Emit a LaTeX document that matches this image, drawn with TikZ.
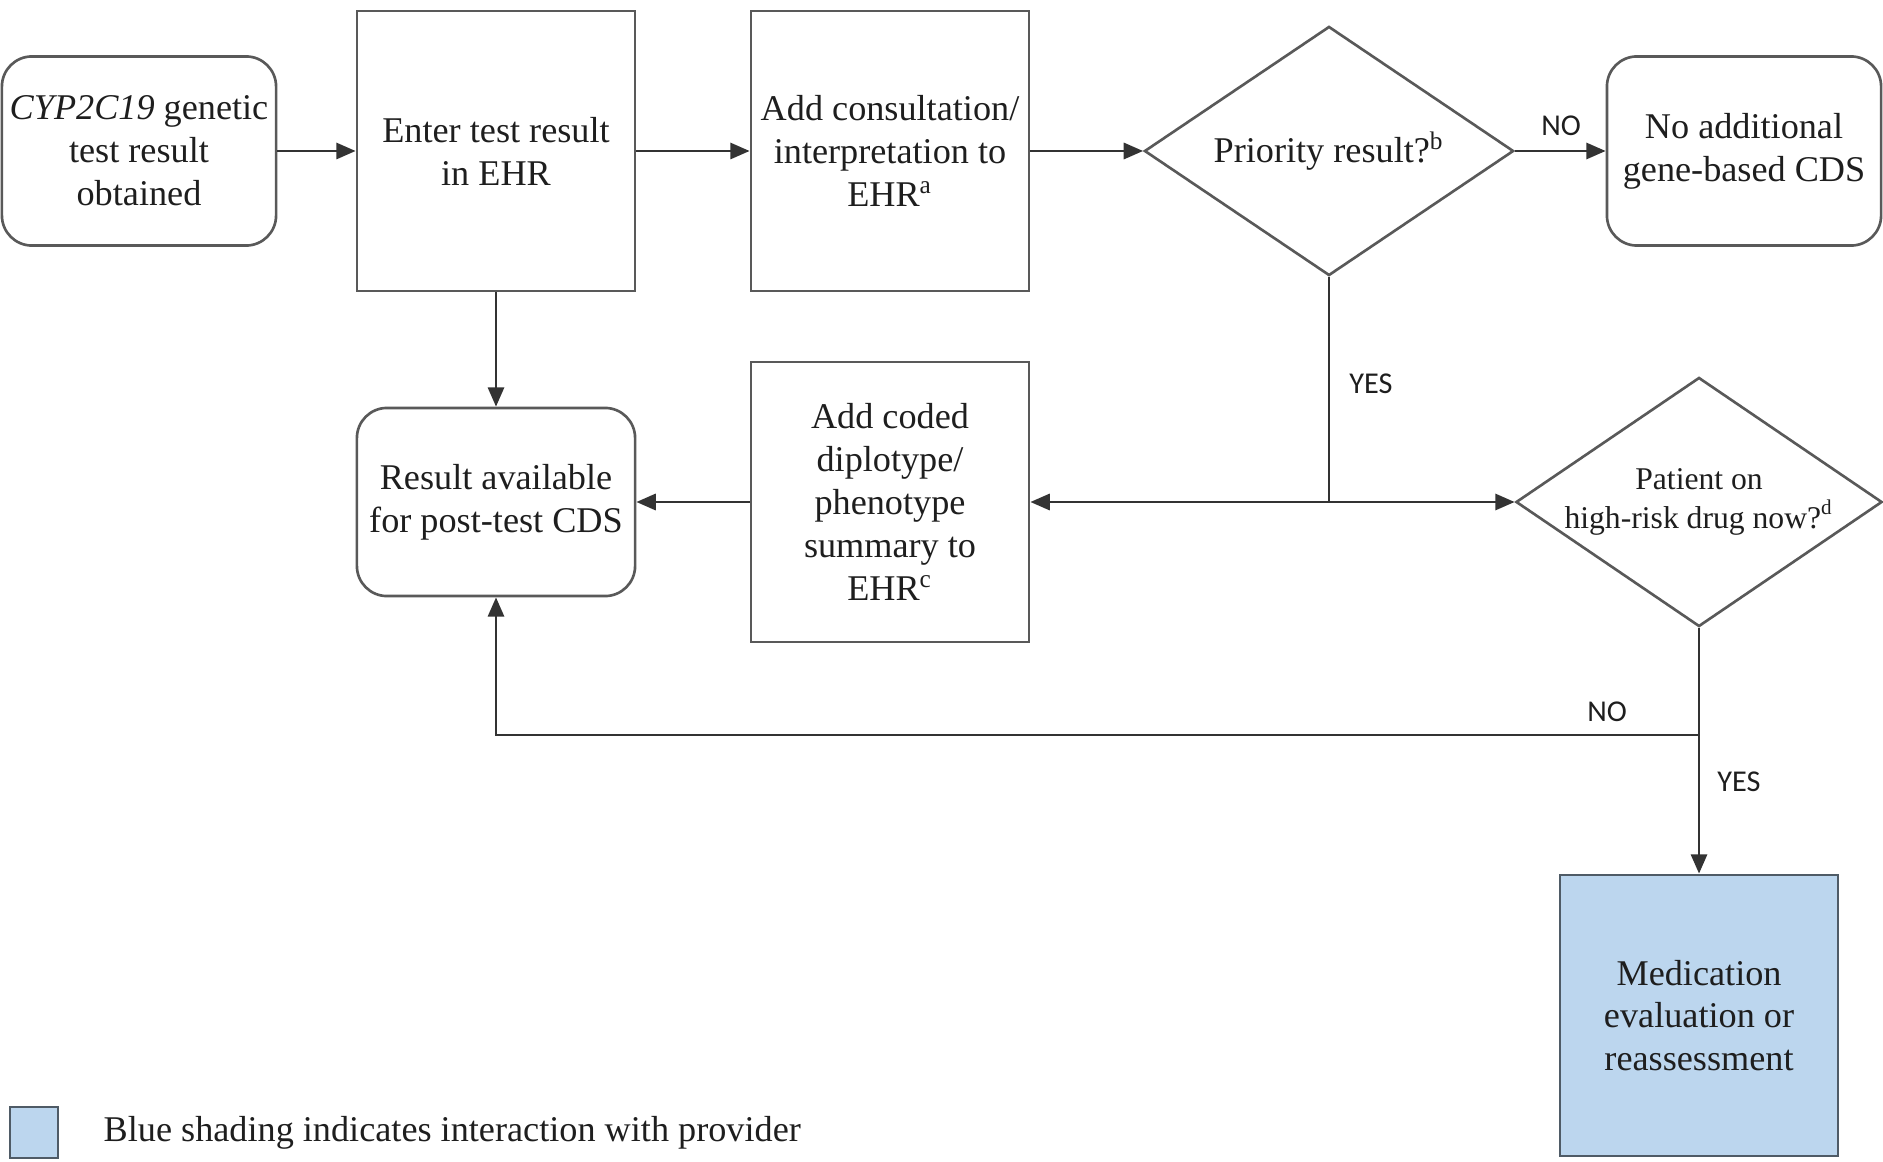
\documentclass[tikz,border=0pt]{standalone}
\usepackage{fontspec}
\setmainfont{Liberation Serif}
\newfontfamily\lblfont{Carlito}
\usetikzlibrary{shapes.geometric,arrows.meta}
\definecolor{edgegray}{HTML}{595959}
\definecolor{linegray}{HTML}{333333}
\definecolor{bluefill}{HTML}{BCD6EE}
\definecolor{blueedge}{HTML}{4F5B66}
\definecolor{txt}{HTML}{1E1E1E}
\tikzset{
  x=0.01cm, y=-0.01cm,
  base/.style={draw=edgegray, line width=0.75pt, align=center, text=txt, inner sep=0pt,
    font=\fontsize{10.3}{12.2}\selectfont},
  roundbox/.style={base, rectangle, rounded corners=0.3cm},
  sqbox/.style={base, rectangle},
  decision/.style={base, diamond},
  bluebox/.style={sqbox, fill=bluefill, draw=blueedge},
  conn/.style={draw=linegray, line width=0.75pt},
  arr/.style={conn, -{Triangle[length=5.5pt,width=4.6pt]}},
  lbl/.style={font=\lblfont\fontsize{8.6}{10}\selectfont, text=txt, inner sep=0pt},
}
\begin{document}
\begin{tikzpicture}
\useasboundingbox (0,0) rectangle (1883,1161);
% nodes
\node[roundbox, minimum width=2.74cm, minimum height=1.89cm] (b1) at (139,151)
  {\textit{CYP2C19} genetic\\test result\\obtained};
\node[sqbox, minimum width=2.78cm, minimum height=2.80cm] (b2) at (496,151)
  {Enter test result\\in EHR};
\node[sqbox, minimum width=2.78cm, minimum height=2.80cm] (b3) at (890,151)
  {Add consultation/\\interpretation to\\EHR\textsuperscript{a}};
\node[decision, minimum width=3.69cm, minimum height=2.49cm, aspect=1.48] (d1) at (1329,151)
  {Priority result?\textsuperscript{b}};
\node[roundbox, minimum width=2.74cm, minimum height=1.89cm] (b4) at (1744,151)
  {No additional\\gene-based CDS};
\node[roundbox, minimum width=2.78cm, minimum height=1.88cm] (b5) at (496,502)
  {Result available\\for post-test CDS};
\node[sqbox, minimum width=2.78cm, minimum height=2.80cm] (b6) at (890,502)
  {Add coded\\diplotype/\\phenotype\\summary to\\EHR\textsuperscript{c}};
\node[decision, minimum width=3.64cm, minimum height=2.48cm, aspect=1.47,
  font=\fontsize{9}{10.9}\selectfont] (d2) at (1699,502)
  {Patient on\\high-risk drug now?\textsuperscript{d}};
\node[bluebox, minimum width=2.78cm, minimum height=2.81cm] (b7) at (1699,1015.5)
  {Medication\\evaluation or\\reassessment};
% legend
\node[bluebox, minimum width=0.48cm, minimum height=0.51cm] (leg) at (34,1132.5) {};
\node[anchor=west, inner sep=0pt, text=txt, font=\fontsize{10.3}{12.2}\selectfont] (legtxt) at (103,1133)
  {Blue shading indicates interaction with provider};
% connectors
\draw[arr] (b1) -- (b2);
\draw[arr] (b2) -- (b3);
\draw[arr] (b3) -- (d1);
\draw[arr] (d1) -- (b4);
\draw[arr] (b2) -- (b5);
\coordinate (j1) at (1329,502);
\draw[conn] (d1.south) -- (j1);
\draw[arr] (j1) -- (b6.east);
\draw[arr] (j1) -- (d2.west);
\draw[arr] (b6) -- (b5);
\coordinate (j2) at (1699,735);
\draw[arr] (d2.south) -- (b7.north);
\draw[arr] (j2) -| (b5.south);
% labels
\node[lbl] (no1) at (1561,126) {NO};
\node[lbl] (yes1) at (1371,384) {YES};
\node[lbl] (no2) at (1607,712) {NO};
\node[lbl] (yes2) at (1739,782) {YES};
\end{tikzpicture}
\end{document}
